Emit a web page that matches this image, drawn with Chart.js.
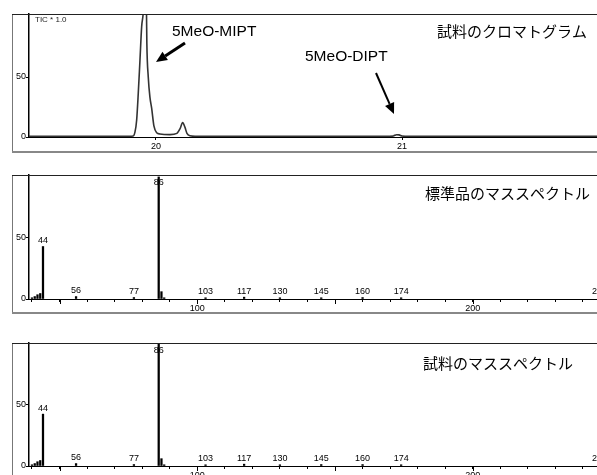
<!DOCTYPE html>
<html>
<head>
<meta charset="utf-8">
<script src="https://cdn.jsdelivr.net/npm/chart.js@4.4.1/dist/chart.umd.min.js"></script>
<style>
  html, body { margin: 0; padding: 0; background: #fff; width: 597px; height: 475px; overflow: hidden; position: relative; }
  canvas { position: absolute; left: 0; }
</style>
</head>
<body>
<canvas id="tic" width="620" height="160" style="top:0px"></canvas>
<canvas id="std" width="620" height="160" style="top:160px"></canvas>
<canvas id="smp" width="620" height="160" style="top:328px"></canvas>
<script>
// TIC chromatogram (retention time in min, relative intensity %)
const rtMin = [19.484, 19.55, 19.6, 19.65, 19.7, 19.75, 19.8, 19.85, 19.89, 19.9077, 19.9146, 19.9215, 19.928, 19.935, 19.9419,
  19.9484, 19.955, 19.9615, 19.963, 19.9687, 19.9756, 19.9825, 19.9919, 20.003, 20.016, 20.057, 20.085, 20.098, 20.1085,
  20.118, 20.126, 20.138, 20.159, 20.25, 20.35, 20.45, 20.55, 20.65, 20.75, 20.85, 20.93, 20.965, 20.978, 20.988, 21.0,
  21.03, 21.1, 21.2, 21.3, 21.4, 21.5, 21.6, 21.7, 21.8, 21.886];
const ticPct = [0.6, 0.5, 0.6, 0.5, 0.6, 0.5, 0.6, 0.5, 0.6, 0.8, 4, 14, 36, 64, 92,
  104, 135, 104, 78, 50, 33, 24, 9, 3.5, 2.5, 2, 3, 7, 12,
  8, 3, 1, 0.6, 0.6, 0.5, 0.6, 0.5, 0.6, 0.5, 0.6, 0.5, 0.9, 1.9, 1.8, 0.8,
  0.5, 0.6, 0.5, 0.6, 0.5, 0.6, 0.5, 0.6, 0.5, 0.6];
const rtTicks = [20, 21];

// mass spectrum of the reference standard
const stdMz = [40, 41, 42, 43, 44, 56, 77, 86, 87, 88, 103, 117, 130, 145, 160, 174, 246];
const stdInt = [1, 2, 3.5, 4.5, 43, 2, 1.2, 100, 6, 1, 1, 1.5, 1, 1, 1.2, 1, 1];
// mass spectrum of the sample
const smpMz = [40, 41, 42, 43, 44, 56, 77, 86, 87, 88, 103, 117, 130, 145, 160, 174, 246];
const smpInt = [1, 2, 3.5, 4.5, 42.5, 2, 1.2, 100, 6, 1, 1, 1.5, 1, 1.2, 1.2, 1, 1];
const labelMz = [44, 56, 77, 86, 103, 117, 130, 145, 160, 174, 246];
const mzTicks = [40, 50, 60, 70, 80, 90, 100, 110, 120, 130, 140, 150, 160, 170, 180, 190, 200, 210, 220, 230, 240, 250];
const yTicks = [0, 50];

const FONT = '"Liberation Sans", Arial, sans-serif';
const JP = '"Noto Sans CJK JP", sans-serif';

function fixAxis(w, h) {
  return (scale) => {
    if (w != null) scale.width = w;
    if (h != null) scale.height = h;
    scale.paddingLeft = scale.paddingRight = scale.paddingTop = scale.paddingBottom = 0;
  };
}

function axes(xMin, xMax, xTicks, xLabel, yMax, xH) {
  return {
    x: {
      type: "linear", min: xMin, max: xMax, offset: false,
      afterFit: fixAxis(null, xH),
      afterBuildTicks: (s) => { s.ticks = xTicks.map((v) => ({ value: v })); },
      grid: { drawOnChartArea: false, offset: false, tickLength: 3, color: "#000" },
      border: { color: "#000", width: 1 },
      ticks: { autoSkip: false, maxRotation: 0, padding: 1, color: "#000",
        font: { family: FONT, size: 9 }, callback: xLabel },
    },
    y: {
      type: "linear", min: 0, max: yMax,
      afterFit: fixAxis(17, null),
      afterBuildTicks: (s) => { s.ticks = yTicks.map((v) => ({ value: v })); },
      grid: { drawOnChartArea: false, tickLength: 3, color: "#000" },
      border: { color: "#000", width: 1.5 },
      ticks: { padding: 0, color: "#000", font: { family: FONT, size: 9 } },
    },
  };
}

// frame + title drawn round each panel
function panelPlugin(title, titleX, titleY, xH, extra) {
  return {
    id: "panel",
    afterDraw(chart) {
      const { ctx, chartArea } = chart;
      const bottom = chartArea.bottom + xH;
      ctx.save();
      ctx.strokeStyle = "#777";
      ctx.lineWidth = 1;
      ctx.beginPath();
      ctx.moveTo(12.5, chartArea.top);
      ctx.lineTo(12.5, bottom);
      ctx.stroke();
      ctx.strokeStyle = "#222";
      ctx.beginPath();
      ctx.moveTo(12, chartArea.top + 0.5);
      ctx.lineTo(chart.width, chartArea.top + 0.5);
      ctx.stroke();
      ctx.strokeStyle = "#888";
      ctx.lineWidth = 2;
      ctx.beginPath();
      ctx.moveTo(12, bottom);
      ctx.lineTo(chart.width, bottom);
      ctx.stroke();
      ctx.fillStyle = "#000";
      ctx.font = `15px ${JP}`;
      ctx.textAlign = "left";
      ctx.textBaseline = "middle";
      ctx.fillText(title, titleX, titleY);
      if (extra) extra(chart);
      ctx.restore();
    },
  };
}

function arrow(ctx, x0, y0, x1, y1, w, head) {
  const a = Math.atan2(y1 - y0, x1 - x0);
  const bx = x1 - Math.cos(a) * head, by = y1 - Math.sin(a) * head;
  ctx.lineWidth = w;
  ctx.beginPath();
  ctx.moveTo(x0, y0);
  ctx.lineTo(bx, by);
  ctx.stroke();
  ctx.beginPath();
  ctx.moveTo(x1, y1);
  ctx.lineTo(bx + Math.sin(a) * head * 0.45, by - Math.cos(a) * head * 0.45);
  ctx.lineTo(bx - Math.sin(a) * head * 0.45, by + Math.cos(a) * head * 0.45);
  ctx.closePath();
  ctx.fill();
}

new Chart(document.getElementById("tic"), {
  type: "line",
  data: {
    datasets: [{
      data: rtMin.map((t, i) => ({ x: t, y: ticPct[i] })),
      borderColor: "#333",
      borderWidth: 1.6,
      pointRadius: 0,
      cubicInterpolationMode: "monotone",
      fill: false,
    }],
  },
  options: {
    responsive: false,
    animation: false,
    layout: { padding: { left: 12, top: 14, right: 0, bottom: 8 } },
    plugins: { legend: { display: false }, tooltip: { enabled: false } },
    scales: axes(19.484, 21.886, rtTicks, (v) => String(v), 102.5, 15),
  },
  plugins: [panelPlugin("試料のクロマトグラム", 437, 31, 15, (chart) => {
    const ctx = chart.ctx;
    ctx.font = `8px ${FONT}`;
    ctx.fillStyle = "#222";
    ctx.fillText("TIC * 1.0", 35, 20);
    ctx.fillStyle = "#000";
    ctx.strokeStyle = "#000";
    ctx.font = `15.5px ${FONT}`;
    ctx.fillText("5MeO-MIPT", 172, 32);
    ctx.fillText("5MeO-DIPT", 305, 57);
    arrow(ctx, 185, 43, 156, 62, 3, 11);
    arrow(ctx, 376, 73, 394, 114, 2, 11);
  })],
});

function spectrum(id, mz, inten, yMax, titleX, titleY, xH, pad) {
  new Chart(document.getElementById(id), {
    type: "bar",
    data: {
      datasets: [{
        data: mz.map((m, i) => ({ x: m, y: inten[i] })),
        backgroundColor: "#000",
        borderWidth: 0,
        barThickness: 1.6,
      }],
    },
    options: {
      responsive: false,
      animation: false,
      layout: { padding: pad },
      plugins: { legend: { display: false }, tooltip: { enabled: false } },
      scales: axes(38.92, 253.44, mzTicks, (v) => (v % 100 === 0 ? String(v) : ""), yMax, xH),
    },
    plugins: [panelPlugin(id === "std" ? "標準品のマススペクトル" : "試料のマススペクトル", titleX, titleY, xH, (chart) => {
      const ctx = chart.ctx;
      const xs = chart.scales.x;
      const b = chart.chartArea.bottom;
      ctx.strokeStyle = "#000";
      ctx.lineWidth = 1;
      mzTicks.filter((v) => v % 50 === 0).forEach((v) => {
        const px = Math.round(xs.getPixelForValue(v)) + 0.5;
        ctx.beginPath();
        ctx.moveTo(px, b);
        ctx.lineTo(px, b + 5);
        ctx.stroke();
      });
      ctx.font = `9px ${FONT}`;
      ctx.textAlign = "center";
      ctx.textBaseline = "middle";
      const meta = chart.getDatasetMeta(0);
      meta.data.forEach((bar, i) => {
        if (!labelMz.includes(mz[i])) return;
        const y = Math.max(chart.chartArea.top + 8, bar.y - 6);
        ctx.fillText(String(mz[i]), bar.x, y);
      });
    })],
  });
}

spectrum("std", stdMz, stdInt, 101.6, 425, 33, 14, { left: 12, top: 15, right: 0, bottom: 7 });
spectrum("smp", smpMz, smpInt, 100.8, 423, 35, 14, { left: 12, top: 15, right: 0, bottom: 8 });
</script>
</body>
</html>
